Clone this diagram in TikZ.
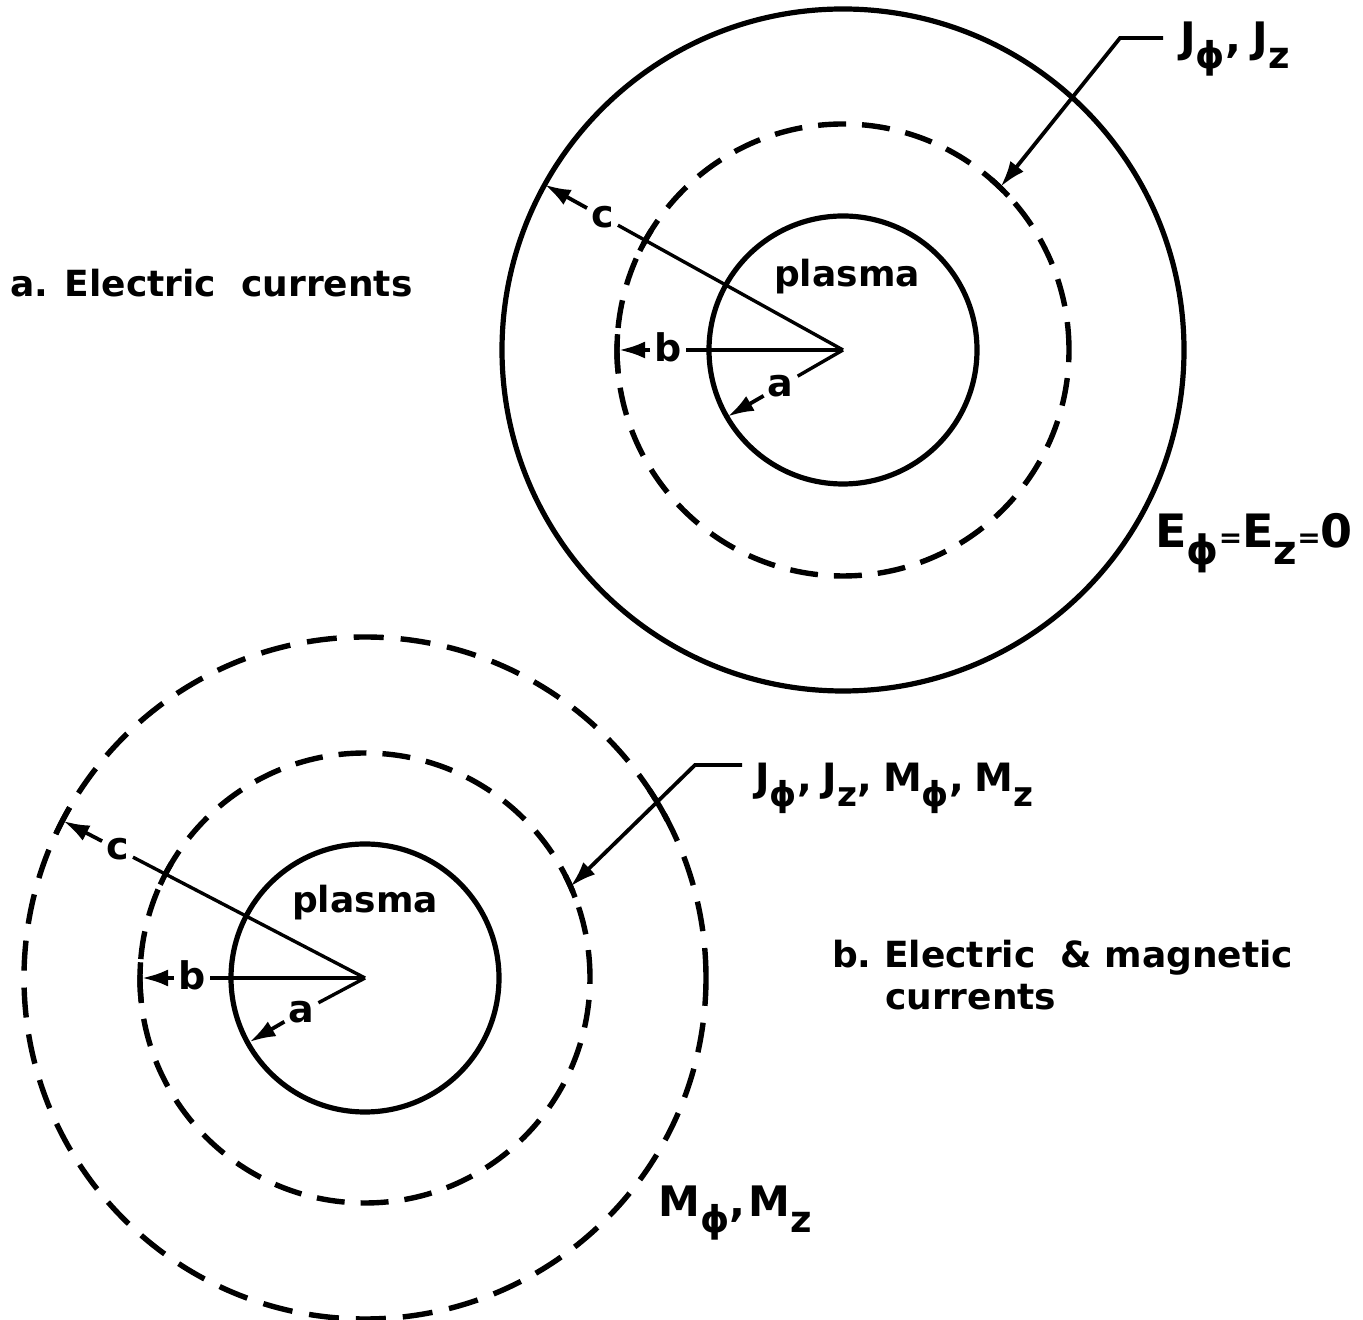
\documentclass[tikz,border=0pt]{standalone}
\usepackage{fontspec}
\setmainfont{DejaVu Sans}
\usepackage{graphicx}
\usetikzlibrary{arrows.meta,calc}
\newcommand{\F}[1]{\fontsize{#1}{#1}\selectfont\bfseries}
\newcommand{\lsub}[1]{\raisebox{-0.36em}{\scalebox{0.88}{#1}}}
\newcommand{\smeq}{{\fontsize{28}{28}\selectfont\bfseries =}}
\newcommand{\cm}{,\hspace{0.28em}}
\begin{document}
\begin{tikzpicture}[x=1pt,y=1pt,
  solidc/.style={line width=5.2pt},
  dashc/.style={line width=5.4pt, dash pattern=on 28pt off 16pt},
  dasho/.style={line width=5.4pt, dash pattern=on 30pt off 17pt},
  radial/.style={line width=3.4pt},
  arr/.style={line width=3.8pt, -{Latex[length=26pt,width=17pt]}},
  tickmark/.style={line width=5.4pt},
  lbl/.style={font=\F{38}, inner sep=4pt},
  title/.style={font=\F{36}, inner sep=0pt, anchor=base west},
  qty/.style={font=\F{42}, inner sep=0pt, anchor=base west}]
\fill[white] (0,0) rectangle (1363,1320);
\useasboundingbox (0,0) rectangle (1363,1320);

% ---------- top diagram ----------
\coordinate (T) at (843,970);
\draw[solidc] (T) circle[radius=134];
\draw[dashc] (T) circle[radius=226];
\draw[solidc] (T) circle[radius=341];
\node[font=\F{36}, inner sep=0pt] (Tpl) at (847,1043) {plasma};

\node[lbl] (Tc) at ($(T)+(151:275)$) {c};
\coordinate (Tcend) at ($(T)+(151:341)$);
\draw[radial] (T) -- (Tc);
\draw[arr] (Tc) -- (Tcend);
\draw[tickmark] ([shift={(T)}]148:226) arc[start angle=148,end angle=154,radius=226];

\node[lbl] (Tb) at ($(T)+(180:175)+(0,3)$) {b};
\coordinate (Tbend) at ($(T)+(180:224)$);
\draw[radial] (T) -- (Tb.east|-T);
\draw[arr] (Tb.west|-T) -- (Tbend);
\draw[tickmark] ([shift={(T)}]176:226) arc[start angle=176,end angle=186,radius=226];

\node[lbl] (Ta) at ($(T)+(210:72)$) {a};
\coordinate (Taend) at ($(T)+(210:133)$);
\draw[radial] (T) -- (Ta);
\draw[arr] (Ta) -- (Taend);

\coordinate (Ttip) at ($(T)+(46:227)$);
\coordinate (Tknee) at (1120,1282);
\coordinate (Tfree) at (1163,1282);
\draw[arr] (Tfree) -- (Tknee) -- (Ttip);
\draw[tickmark] ([shift={(T)}]43:226) arc[start angle=43,end angle=49,radius=226];
\node[qty] (TJ) at (1180,1267) {J\lsub{ϕ}\cm J\lsub{z}};
\node[qty, font=\F{46}] (TE) at (1155,772) {E\lsub{ϕ}\smeq E\lsub{z}\smeq 0};

\node[title] (ta) at (10,1023) {a. Electric\ \ currents};

% ---------- bottom diagram ----------
\coordinate (B) at (365,342);
\draw[solidc] (B) circle[radius=134];
\draw[dashc] (B) circle[radius=225];
\draw[dasho] (B) circle[radius=341];
\node[font=\F{36}, inner sep=0pt] (Bpl) at (365,417) {plasma};

\node[lbl] (Bc) at ($(B)+(152.5:279)$) {c};
\coordinate (Bcend) at ($(B)+(152.5:340)$);
\draw[radial] (B) -- (Bc);
\draw[arr] (Bc) -- (Bcend);
\draw[tickmark] ([shift={(B)}]150:341) arc[start angle=150,end angle=155,radius=341];
\draw[tickmark] ([shift={(B)}]149.5:225) arc[start angle=149.5,end angle=155.5,radius=225];

\node[lbl] (Bb) at ($(B)+(180:173)+(0,3)$) {b};
\coordinate (Bbend) at ($(B)+(180:223)$);
\draw[radial] (B) -- (Bb.east|-B);
\draw[arr] (Bb.west|-B) -- (Bbend);
\draw[tickmark] ([shift={(B)}]176:225) arc[start angle=176,end angle=186,radius=225];

\node[lbl] (Ba) at ($(B)+(208:72)$) {a};
\coordinate (Baend) at ($(B)+(209:132)$);
\draw[radial] (B) -- (Ba);
\draw[arr] (Ba) -- (Baend);

\coordinate (Btip) at ($(B)+(24:225)$);
\coordinate (Bknee) at (695,555);
\coordinate (Bfree) at (742,555);
\draw[arr] (Bfree) -- (Bknee) -- (Btip);
\draw[tickmark] ([shift={(B)}]21:225) arc[start angle=21,end angle=27,radius=225];
\draw[tickmark] ([shift={(B)}]27.5:341) arc[start angle=27.5,end angle=33.5,radius=341];
\node[qty, font=\F{39}] (BJ) at (755,528) {J\lsub{ϕ}\cm J\lsub{z}\cm M\lsub{ϕ}\cm M\lsub{z}};
\node[qty, font=\F{42}] (BM) at (658,103) {M\lsub{ϕ},\hspace{0.08em}M\lsub{z}};

\node[title] (tb1) at (832,352) {b.\ Electric\ \ \&\ magnetic};
\node[title] (tb2) at (885,310) {currents};
\end{tikzpicture}
\end{document}
